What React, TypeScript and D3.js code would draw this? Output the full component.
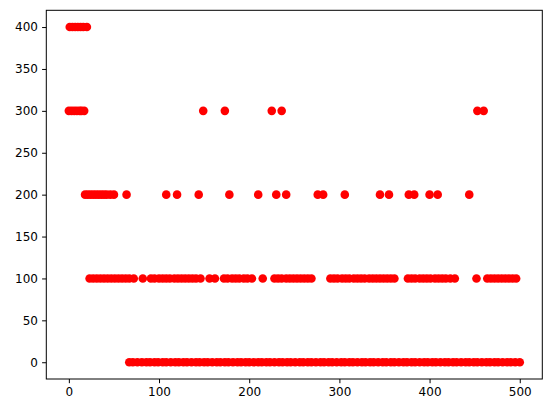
import React, { useEffect, useRef } from 'react';
import * as d3 from 'd3';

// x positions, one list per level
const xAt400 = [1, 4, 7, 10, 13, 16, 20];
const xAt300 = [0, 3, 6, 9, 12, 14, 17, 149, 173, 225, 236, 453, 460];
const xAt200 = [
  18, 21, 24, 27, 30, 33, 36, 39, 42, 46, 50, 64, 108, 120, 144, 178, 210, 230, 241,
  276, 282, 306, 345, 355, 377, 383, 400, 409, 444,
];
const xAt100 = [
  23, 27, 31, 35, 39, 43, 47, 51, 55, 59, 63, 67, 72, 82,
  91, 95, 100, 104, 108, 112, 117, 121, 125, 129, 133, 137, 141, 146, 156, 162,
  172, 176, 181, 185, 189, 194, 198, 203, 215,
  228, 232, 236, 241, 245, 249, 253, 257, 261, 265, 269,
  290, 294, 298, 303, 307, 311, 316, 320, 324, 328, 333, 337, 341, 345, 349, 353, 357, 361,
  376, 380, 384, 389, 393, 397, 401, 406, 410, 414, 418, 423, 428,
  452, 464, 468, 472, 476, 480, 484, 488, 492, 496,
];
const xAt0 = [
  67, 71, 76, 81, 86, 90, 95, 99, 104, 108, 113, 118, 122, 127, 131, 136, 141, 145, 150,
  154, 159, 164, 168, 173, 177, 182, 187, 191, 196, 200, 205, 210, 214, 219, 223, 228,
  233, 237, 242, 246, 251, 256, 260, 265, 269, 274, 279, 283, 288, 292, 297, 302, 306,
  311, 315, 320, 325, 329, 334, 338, 343, 348, 352, 357, 361, 366, 371, 375, 380, 384,
  389, 394, 398, 403, 407, 412, 417, 421, 426, 430, 435, 440, 444, 449, 453, 458, 463,
  467, 472, 476, 481, 486, 490, 495, 500,
];

const levels: [number, number[]][] = [
  [400, xAt400],
  [300, xAt300],
  [200, xAt200],
  [100, xAt100],
  [0, xAt0],
];

const xTicks = [0, 100, 200, 300, 400, 500];
const yTicks = [0, 50, 100, 150, 200, 250, 300, 350, 400];

const W = 552;
const H = 413;
const FONT = '"DejaVu Sans", sans-serif';

export default function App() {
  const svgRef = useRef<SVGSVGElement>(null);

  useEffect(() => {
    if (!svgRef.current) return;
    const svg = d3.select(svgRef.current);
    svg.selectAll('*').remove();

    const left = 46.3, right = 542.3, top = 10.3, bottom = 379;

    const x = d3.scaleLinear().domain([-25, 525]).range([left, right]);
    const y = d3.scaleLinear().domain([-20, 420]).range([bottom, top]);

    svg.append('rect').attr('width', W).attr('height', H).attr('fill', '#fff');

    const points = levels.flatMap(([v, xs]) => xs.map(xv => ({ x: xv, y: v })));

    svg.append('g')
      .selectAll('circle')
      .data(points)
      .join('circle')
      .attr('cx', d => x(d.x))
      .attr('cy', d => y(d.y))
      .attr('r', 4.3)
      .attr('fill', '#ff0000');

    // frame
    svg.append('rect')
      .attr('x', left)
      .attr('y', top)
      .attr('width', right - left)
      .attr('height', bottom - top)
      .attr('fill', 'none')
      .attr('stroke', '#000')
      .attr('stroke-width', 1);

    const xAxis = svg.append('g')
      .attr('transform', `translate(0,${bottom})`)
      .call(d3.axisBottom(x).tickValues(xTicks).tickSize(4.2).tickPadding(4.2).tickFormat(d3.format('d')));
    const yAxis = svg.append('g')
      .attr('transform', `translate(${left},0)`)
      .call(d3.axisLeft(y).tickValues(yTicks).tickSize(4.2).tickPadding(4.2).tickFormat(d3.format('d')));

    [xAxis, yAxis].forEach(g => {
      g.select('.domain').remove();
      g.selectAll('line').attr('stroke', '#000').attr('stroke-width', 1);
      g.selectAll('text')
        .attr('fill', '#000')
        .style('font-family', FONT)
        .style('font-size', '12px');
    });
  }, []);

  return (
    <svg
      ref={svgRef}
      width={W}
      height={H}
      style={{ position: 'absolute', left: 0, top: 0, display: 'block' }}
    />
  );
}
